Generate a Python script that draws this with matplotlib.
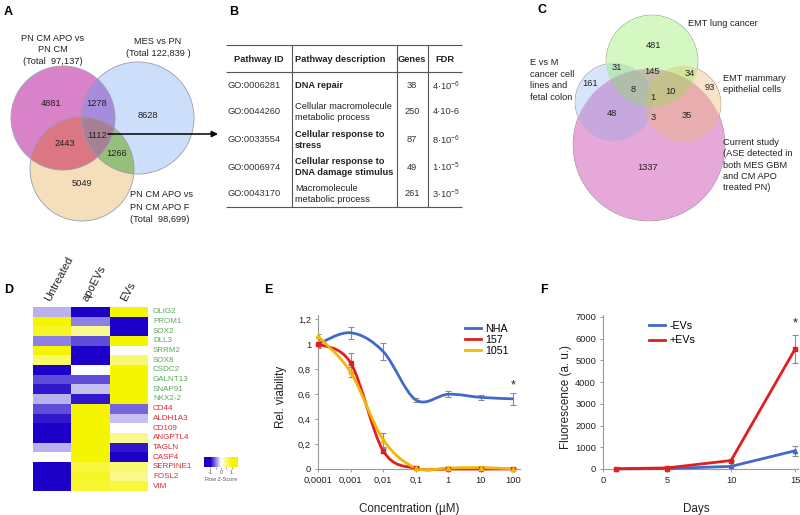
import numpy as np
import matplotlib
matplotlib.use("Agg")
import matplotlib.pyplot as plt  # noqa: E402
from matplotlib.colors import LinearSegmentedColormap  # noqa: E402
from matplotlib.lines import Line2D  # noqa: E402
from matplotlib.patches import Circle, PathPatch  # noqa: E402
from matplotlib.path import Path  # noqa: E402

plt.rcParams['font.family'] = ['Liberation Sans', 'DejaVu Sans']
plt.rcParams['mathtext.fontset'] = 'custom'
plt.rcParams['mathtext.rm'] = 'Liberation Sans'
plt.rcParams['mathtext.it'] = 'Liberation Sans:italic'

W, H = 800, 515
TXT = '#222222'

# ---------------- data ----------------
# A: three-way Venn, region counts (bits: pink=1, blue=2, orange=4)
venn_a_codes = [1, 2, 4, 3, 5, 6, 7]
venn_a_counts = [4881, 8628, 5049, 1278, 2443, 1266, 1112]
venn_a_sets = ["PN CM APO vs\nPN CM\n(Total  97,137)", "MES vs PN\n(Total 122,839 )",
               "PN CM APO vs\nPN CM APO F\n(Total  98,699)"]

# B: GO table
go_ids = ["GO:0006281", "GO:0044260", "GO:0033554", "GO:0006974", "GO:0043170"]
go_desc = ["DNA repair", "Cellular macromolecule\nmetabolic process", "Cellular response to\nstress",
           "Cellular response to\nDNA damage stimulus", "Macromolecule\nmetabolic process"]
go_bold = [True, False, True, True, False]
go_genes = [38, 250, 87, 49, 261]
go_fdr = [r"4·10$^{-6}$", "4·10-6", r"8·10$^{-6}$", r"1·10$^{-5}$", r"3·10$^{-5}$"]

# C: four-way Venn (bits: green=1, blue=2, orange=4, pink=8)
venn_c_codes = [1, 3, 9, 5, 2, 11, 13, 4, 15, 10, 14, 12, 8]
venn_c_counts = [481, 31, 145, 34, 161, 8, 10, 93, 1, 48, 3, 35, 1337]
venn_c_sets = ["EMT lung cancer", "E vs M\ncancer cell\nlines and\nfetal colon",
               "EMT mammary\nepithelial cells",
               "Current study\n(ASE detected in\nboth MES GBM\nand CM APO\ntreated PN)"]

# D: heatmap (row z-scores)
hm_cols = ["Untreated", "apoEVs", "EVs"]
hm_genes = ["OLIG2", "PROM1", "SOX2", "DLL3", "SRRM2", "SOX8", "CSDC2", "GALNT13", "SNAP91", "NKX2-2",
            "CD44", "ALDH1A3", "CD109", "ANGPTL4", "TAGLN", "CASP4", "SERPINE1", "FOSL2", "VIM"]
hm_n_green = 10
hm_z = np.array([
    [-0.3, -1.0, 1.0], [1.0, -0.5, -1.0], [0.85, 0.45, -1.0], [-0.5, -0.7, 1.0],
    [1.0, -1.0, 0.0], [0.6, -1.0, 0.55], [-1.0, 0.0, 1.0], [-0.7, -0.7, 1.0],
    [-0.9, -0.25, 1.0], [-0.3, -0.9, 1.0], [-0.7, 1.0, -0.6], [-0.9, 1.0, -0.25],
    [-1.0, 1.0, 0.0], [-1.0, 1.0, 0.45], [-0.3, 1.0, -0.9], [0.0, 1.0, -1.0],
    [-1.0, 0.75, 0.55], [-1.0, 0.85, 0.45], [-1.0, 0.8, 0.75]])

# E: viability vs concentration
conc_labels = ["0,0001", "0,001", "0,01", "0,1", "1", "10", "100"]
nha = [1.0, 1.09, 0.94, 0.553, 0.598, 0.573, 0.561]
nha_err = [0.035, 0.05, 0.065, 0.015, 0.025, 0.02, 0.047]
c157 = [1.0, 0.85, 0.146, 0.005, 0.0, 0.0, 0.0]
c157_err = [0.02, 0.075, 0.02, 0.01, 0.005, 0.005, 0.005]
c1051 = [1.063, 0.775, 0.235, 0.008, 0.008, 0.012, 0.0]
c1051_err = [0.02, 0.04, 0.055, 0.02, 0.01, 0.01, 0.01]

# F: fluorescence vs days
days = [1, 5, 10, 15]
neg_ev = [0, 20, 120, 840]
neg_ev_err = [0, 0, 0, 230]
pos_ev = [10, 50, 390, 5520]
pos_ev_err = [0, 0, 0, 650]

BLUE, RED, GOLD = '#4169c8', '#e01f1f', '#f2b705'
GRAY = '#8c8c8c'


def px_axes(fig, x0, y0, x1, y1):
    return fig.add_axes([x0 / W, 1 - y1 / H, (x1 - x0) / W, (y1 - y0) / H])


def venn_image(ax, centers, radii, colors, bbox, step=0.25):
    x0, y0, x1, y1 = bbox
    X, Y = np.meshgrid(np.arange(x0, x1, step) + step / 2, np.arange(y0, y1, step) + step / 2)
    code = np.zeros(X.shape, int)
    for k, ((cx, cy), r) in enumerate(zip(centers, radii)):
        code |= (((X - cx) ** 2 + (Y - cy) ** 2) <= r ** 2).astype(int) << k
    ax.imshow(colors[code], extent=(x0, x1, y1, y0), interpolation='antialiased', aspect='auto', zorder=1)


def smooth_path(xs, ys):
    pts = np.column_stack([xs, ys]).astype(float)
    n = len(pts)
    verts, codes = [pts[0]], [Path.MOVETO]
    for i in range(n - 1):
        p0, p1, p2, p3 = pts[max(i - 1, 0)], pts[i], pts[i + 1], pts[min(i + 2, n - 1)]
        verts += [p1 + (p2 - p0) / 6, p2 - (p3 - p1) / 6, p2]
        codes += [Path.CURVE4] * 3
    return Path(verts, codes)


fig = plt.figure(figsize=(W / 100, H / 100), dpi=100)
ov = fig.add_axes([0, 0, 1, 1])
ov.axis('off')

# panel letters
for lab, (x, y) in zip("ABCDEF", [(4, 12), (229, 12), (538, 10), (4, 290), (264, 290), (540, 290)]):
    ov.text(x, y, lab, fontsize=9, fontweight='bold', ha='left', va='center', color='black')

# ---------- A ----------
a_centers = [(63, 118), (138, 118), (82, 169)]
a_radii = [52, 56, 52]
a_rgb = np.array([[255, 255, 255, 0], [216, 130, 202, 255], [205, 222, 250, 255], [168, 140, 222, 255],
                  [245, 222, 186, 255], [218, 120, 130, 255], [150, 192, 122, 255],
                  [166, 128, 148, 255]]) / 255.0
venn_image(ov, a_centers, a_radii, a_rgb, (5, 55, 200, 230))
for c, r in zip(a_centers, a_radii):
    ov.add_patch(Circle(c, r, fill=False, ec='#9a9aae', lw=0.6, zorder=2))
a_pos = {1: (51, 104), 2: (148, 115), 4: (82, 184), 3: (97, 104), 5: (65, 143), 6: (117, 154), 7: (97, 135)}
for code, n in zip(venn_a_codes, venn_a_counts):
    ov.text(*a_pos[code], str(n), fontsize=6.7, ha='center', va='center', color=TXT, zorder=3)
ov.text(53, 50, venn_a_sets[0], fontsize=6.7, ha='center', va='center', color=TXT, linespacing=1.4)
ov.text(158, 47.5, venn_a_sets[1], fontsize=6.7, ha='center', va='center', color=TXT, linespacing=1.3)
ov.text(130, 207, venn_a_sets[2], fontsize=6.7, ha='left', va='center', color=TXT, linespacing=1.45)
ov.annotate('', xy=(218, 134), xytext=(108, 134),
            arrowprops=dict(arrowstyle='-|>', color='black', lw=1.1, mutation_scale=9, shrinkA=0, shrinkB=0),
            zorder=4)

# ---------- B ----------
tx0, tx1 = 226, 462
col_x = [292, 397, 428]
ov.hlines([45, 72, 207], tx0, tx1, color='#555555', lw=0.8)
ov.vlines(col_x, 45, 207, color='#555555', lw=0.8)
hdr_y = 59
ov.text(259, hdr_y, "Pathway ID", fontsize=6.7, fontweight='bold', ha='center', va='center', color=TXT)
ov.text(295, hdr_y, "Pathway description", fontsize=6.7, fontweight='bold', ha='left', va='center', color=TXT)
ov.text(412, hdr_y, "Genes", fontsize=6.7, fontweight='bold', ha='center', va='center', color=TXT)
ov.text(445, hdr_y, "FDR", fontsize=6.7, fontweight='bold', ha='center', va='center', color=TXT)
row_y = [86, 112, 140, 167, 194]
for y, gid, desc, bold, g, fdr in zip(row_y, go_ids, go_desc, go_bold, go_genes, go_fdr):
    ov.text(228, y, gid, fontsize=6.7, ha='left', va='center', color='#333333')
    ov.text(295, y, desc, fontsize=6.7, ha='left', va='center', linespacing=1.25,
            fontweight='bold' if bold else 'normal', color=TXT)
    ov.text(412, y, str(g), fontsize=6.7, ha='center', va='center', color='#333333')
    ov.text(446, y, fdr, fontsize=6.7, ha='center', va='center', color='#333333')

# ---------- C ----------
c_centers = [(652, 61), (614, 102), (683, 104), (649, 145)]
c_radii = [46, 39, 38, 76]
c_base = [np.array([130, 232, 70]), np.array([125, 168, 240]), np.array([236, 182, 105]),
          np.array([206, 82, 178])]
c_alpha = [0.33, 0.3, 0.38, 0.5]
order = [3, 1, 2, 0]
c_rgb = np.zeros((16, 4))
for code in range(1, 16):
    col = np.array([255.0, 255.0, 255.0])
    for k in order:
        if code >> k & 1:
            col = (1 - c_alpha[k]) * col + c_alpha[k] * c_base[k]
    c_rgb[code, :3] = col / 255.0
    c_rgb[code, 3] = 1.0
venn_image(ov, c_centers, c_radii, c_rgb, (565, 10, 730, 225))
c_pos = {1: (653, 45), 3: (617, 67), 9: (652, 72), 5: (690, 73), 2: (590, 84), 11: (633, 89),
         13: (670, 92), 4: (710, 88), 15: (653, 98), 10: (612, 113), 14: (653, 117), 12: (687, 115),
         8: (648, 167)}
for code, n in zip(venn_c_codes, venn_c_counts):
    ov.text(*c_pos[code], str(n), fontsize=6.7, ha='center', va='center', color=TXT, zorder=3)
ov.text(688, 24, venn_c_sets[0], fontsize=6.7, ha='left', va='center', color=TXT)
ov.text(530, 80, venn_c_sets[1], fontsize=6.7, ha='left', va='center', color=TXT, linespacing=1.35)
ov.text(723, 84, venn_c_sets[2], fontsize=6.7, ha='left', va='center', color=TXT, linespacing=1.35)
ov.text(723, 165, venn_c_sets[3], fontsize=6.7, ha='left', va='center', color=TXT, linespacing=1.33)

ov.set_xlim(0, W)
ov.set_ylim(H, 0)

# ---------- D ----------
cmap = LinearSegmentedColormap.from_list('bwy', ['#1c00c8', '#ffffff', '#f5f500'])
axd = px_axes(fig, 33, 307, 148, 491)
axd.imshow(hm_z, cmap=cmap, vmin=-1, vmax=1, aspect='auto', interpolation='nearest')
axd.axis('off')
for i, g in enumerate(hm_genes):
    axd.text(2.63, i, g, fontsize=5.8, ha='left', va='center',
             color='#5aa858' if i < hm_n_green else '#e4262a')
for j, c in enumerate(hm_cols):
    axd.text(j - 0.02, -0.9, c, fontsize=8, rotation=62, ha='left', va='bottom',
             rotation_mode='anchor', color=TXT)
axcb = px_axes(fig, 204, 457, 238, 467)
grad = np.linspace(-1.6, 1.6, 200)
axcb.imshow(grad[None, :], cmap=cmap, vmin=-1, vmax=1, aspect='auto', extent=(-1.6, 1.6, 0, 1))
axcb.set_yticks([])
axcb.set_xticks([-1, -0.5, 0, 0.5, 1], ["-1", "", "0", "", "1"])
axcb.tick_params(axis='x', labelsize=4, length=1.5, width=0.4, pad=1, colors='#555555')
axcb.set_xlabel("Row Z-Score", fontsize=4, labelpad=1, color='#555555')
for s in axcb.spines.values():
    s.set_visible(False)

# ---------- E ----------
axe = px_axes(fig, 318, 315, 520, 469)
xs = np.arange(len(conc_labels))
for vals, err, col, mk in [(nha, nha_err, BLUE, None), (c157, c157_err, RED, 's'), (c1051, c1051_err, GOLD, '^')]:
    axe.errorbar(xs, vals, yerr=err, fmt='none', ecolor=GRAY, elinewidth=0.8, capsize=2.5, capthick=0.8,
                 zorder=2)
    axe.add_patch(PathPatch(smooth_path(xs, vals), fill=False, ec=col, lw=2, zorder=3, clip_on=False))
    if mk:
        axe.plot(xs, vals, mk, color=col, ms=3.2, zorder=4, clip_on=False)
axe.text(6, 0.665, '*', fontsize=9, ha='center', va='center', color=TXT)
axe.set_xlim(0, 6.2)
axe.set_ylim(0, 1.232)
axe.set_xticks(xs, conc_labels)
axe.set_yticks([0, 0.2, 0.4, 0.6, 0.8, 1.0, 1.2], ["0", "0,2", "0,4", "0,6", "0,8", "1", "1,2"])
axe.legend(handles=[Line2D([], [], color=c, lw=2, label=l) for c, l in
                    [(BLUE, "NHA"), (RED, "157"), (GOLD, "1051")]],
           loc='upper left', bbox_to_anchor=(465 / W, 1 - 324 / H), bbox_transform=fig.transFigure,
           frameon=False, fontsize=7.7, handlelength=1.5, handletextpad=0.4, labelspacing=0.1,
           borderpad=0, borderaxespad=0)
axe.set_ylabel("Rel. viability", fontsize=8.4, color=TXT)
axe.set_xlabel("Concentration (µM)", fontsize=8.4, color=TXT)
axe.yaxis.set_label_coords(-0.155, 0.47)
axe.xaxis.set_label_coords(0.45, -0.22)

# ---------- F ----------
axf = px_axes(fig, 603, 315, 798, 469)
axf.errorbar(days, neg_ev, yerr=neg_ev_err, fmt='none', ecolor=GRAY, elinewidth=0.8, capsize=2.5,
             capthick=0.8, zorder=2)
axf.errorbar(days, pos_ev, yerr=pos_ev_err, fmt='none', ecolor=GRAY, elinewidth=0.8, capsize=2.5,
             capthick=0.8, zorder=2)
axf.plot(days, neg_ev, color=BLUE, lw=2, marker='^', ms=3, label="-EVs", zorder=3, clip_on=False)
axf.plot(days, pos_ev, color=RED, lw=2, marker='s', ms=3.5, label="+EVs", zorder=4, clip_on=False)
axf.text(15, 6720, '*', fontsize=9, ha='center', va='center', color=TXT)
axf.set_xlim(0, 15.23)
axf.set_ylim(0, 7092)
axf.set_xticks([0, 5, 10, 15])
axf.set_yticks(range(0, 7001, 1000))
axf.legend(handles=[Line2D([], [], color=c, lw=2, label=l) for c, l in [(BLUE, "-EVs"), (RED, "+EVs")]],
           loc='upper left', bbox_to_anchor=(649 / W, 1 - 321 / H), bbox_transform=fig.transFigure,
           frameon=False, fontsize=7.7, handlelength=1.5, handletextpad=0.4, labelspacing=0.4,
           borderpad=0, borderaxespad=0)
axf.set_ylabel("Fluorescence (a. u.)", fontsize=8.4, color=TXT)
axf.set_xlabel("Days", fontsize=8.4, color=TXT)
axf.yaxis.set_label_coords(-0.16, 0.47)
axf.xaxis.set_label_coords(0.48, -0.22)

for ax in (axe, axf):
    for s in ('top', 'right'):
        ax.spines[s].set_visible(False)
    for s in ('left', 'bottom'):
        ax.spines[s].set_color('#9a9a9a')
        ax.spines[s].set_linewidth(0.8)
    ax.tick_params(labelsize=6.7, length=2.5, width=0.7, pad=2.5, colors='#9a9a9a', labelcolor=TXT)

fig.savefig("out.png", dpi=100)
